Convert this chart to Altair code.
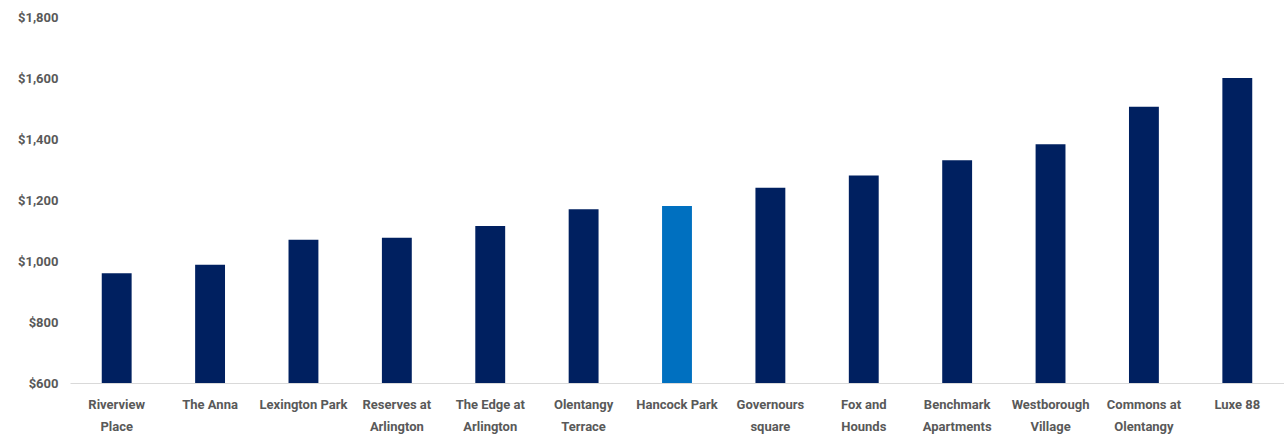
import altair as alt
import pandas as pd

properties = ["Riverview|Place", "The Anna", "Lexington Park", "Reserves at|Arlington",
              "The Edge at|Arlington", "Olentangy|Terrace", "Hancock Park", "Governours|square",
              "Fox and|Hounds", "Benchmark|Apartments", "Westborough|Village", "Commons at|Olentangy",
              "Luxe 88"]
rents = [960, 988, 1070, 1076, 1115, 1170, 1180, 1240, 1280, 1330, 1383, 1506, 1600]
highlight = ["no", "no", "no", "no", "no", "no", "yes", "no", "no", "no", "no", "no", "no"]

df = pd.DataFrame({"property": properties, "rent": rents, "highlight": highlight})

FONT = "Liberation Sans Narrow, Roboto, sans-serif"

chart = alt.Chart(df).mark_bar(clip=True).encode(
    x=alt.X("property:N", sort=None,
            scale=alt.Scale(paddingInner=0.68, paddingOuter=0.34),
            axis=alt.Axis(title=None, labelAngle=0, ticks=False, domainColor="#d9d9d9",
                          labelColor="#595959", labelFont=FONT, labelFontSize=13,
                          labelFontWeight="bold", labelPadding=15, labelLineHeight=22,
                          labelExpr="split(datum.label, '|')")),
    y=alt.Y("rent:Q",
            scale=alt.Scale(domain=[600, 1800], nice=False, zero=False),
            axis=alt.Axis(title=None, format="$,.0f", values=[600, 800, 1000, 1200, 1400, 1600, 1800],
                          grid=False, ticks=False, domain=False, labelColor="#595959",
                          labelFont=FONT, labelFontSize=13, labelFontWeight="bold",
                          labelPadding=12)),
    y2=alt.datum(600),
    color=alt.Color("highlight:N",
                    scale=alt.Scale(domain=["no", "yes"], range=["#002060", "#0070C0"]),
                    legend=None),
).properties(
    width=1214, height=366,
    autosize=alt.AutoSizeParams(type="none"),
    padding={"left": 70, "top": 17, "right": 0, "bottom": 57},
).configure_view(stroke=None)

chart.save("out.html", embed_options={"renderer": "svg", "actions": False})
